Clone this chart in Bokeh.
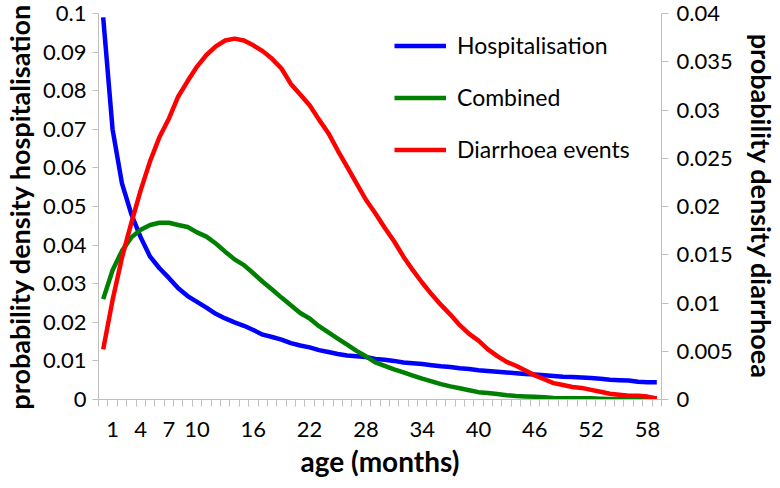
from bokeh.plotting import figure
from bokeh.models import (Range1d, LinearAxis, FixedTicker, PrintfTickFormatter,
                          Legend, LegendItem, ColumnDataSource)
from bokeh.embed import file_html
from bokeh.resources import INLINE

# ---- data ----
age = list(range(60))
hospitalisation = [
    0.099, 0.070, 0.056, 0.048, 0.042, 0.037, 0.034, 0.0315, 0.0288, 0.0268,
    0.0253, 0.0238, 0.0222, 0.0210, 0.0200, 0.0191, 0.0180, 0.0168, 0.0162, 0.0155,
    0.0146, 0.0140, 0.0135, 0.0128, 0.0123, 0.0118, 0.0114, 0.0112, 0.0110, 0.0105,
    0.0103, 0.0100, 0.0096, 0.0094, 0.0092, 0.0089, 0.0086, 0.0084, 0.0081, 0.0079,
    0.0076, 0.0074, 0.0072, 0.0070, 0.0068, 0.0066, 0.0065, 0.0063, 0.0061, 0.0059,
    0.0058, 0.0057, 0.0056, 0.0054, 0.0051, 0.0050, 0.0049, 0.0046, 0.0045, 0.0045,
]
combined = [
    0.026, 0.0335, 0.0385, 0.042, 0.044, 0.0452, 0.0458, 0.0458, 0.0452, 0.0447,
    0.0433, 0.0422, 0.0404, 0.0383, 0.0363, 0.0348, 0.0327, 0.0305, 0.0285, 0.0264,
    0.0244, 0.0224, 0.0210, 0.0190, 0.0174, 0.0158, 0.0142, 0.0126, 0.0112, 0.0096,
    0.0087, 0.0078, 0.0070, 0.0062, 0.0054, 0.0047, 0.0040, 0.0034, 0.0029, 0.0024,
    0.0019, 0.0017, 0.0014, 0.0011, 0.0009, 0.0008, 0.0007, 0.0006, 0.0004, 0.0003,
    0.0003, 0.0003, 0.0003, 0.0002, 0.0001, 0.0001, 0.0001, 0.0001, 0.0001, 0.0001,
]
diarrhoea_events = [
    0.0052, 0.0103, 0.0147, 0.0183, 0.0217, 0.0247, 0.0272, 0.0291, 0.0314, 0.0330,
    0.0345, 0.0357, 0.0366, 0.0372, 0.0374, 0.0372, 0.0367, 0.0361, 0.0353, 0.0343,
    0.0327, 0.0316, 0.0305, 0.0290, 0.0276, 0.0258, 0.0241, 0.0224, 0.0207, 0.0193,
    0.0178, 0.0164, 0.0148, 0.0134, 0.0121, 0.0109, 0.0098, 0.0088, 0.0077, 0.0068,
    0.0061, 0.0052, 0.0045, 0.0039, 0.0035, 0.0030, 0.0025, 0.0021, 0.0017, 0.0015,
    0.0013, 0.0012, 0.0010, 0.0008, 0.0006, 0.0005, 0.0004, 0.0004, 0.0003, 0.0001,
]
x_tick_labels = [1, 4, 7, 10, 16, 22, 28, 34, 40, 46, 52, 58]
left_ticks = [0, 0.01, 0.02, 0.03, 0.04, 0.05, 0.06, 0.07, 0.08, 0.09, 0.1]
right_ticks = [0, 0.005, 0.01, 0.015, 0.02, 0.025, 0.03, 0.035, 0.04]

FONT = "Lato"
AXIS_GREY = "#BFBFBF"
TICK_SIZE = "22px"
TITLE_SIZE = "27px"

src = ColumnDataSource(dict(age=age, hosp=hospitalisation, comb=combined, diar=diarrhoea_events))

p = figure(frame_width=563, frame_height=386, output_backend="svg", toolbar_location=None,
           x_range=Range1d(age[0] - 0.5, age[-1] + 0.5), y_range=Range1d(0, 0.1),
           min_border_left=94, min_border_right=5, min_border_top=13, min_border_bottom=5)
p.extra_y_ranges = {"right": Range1d(0, 0.04)}
p.outline_line_color = None
p.xgrid.visible = False
p.ygrid.visible = False
p.background_fill_color = "white"
p.border_fill_color = "white"

# x axis
xa = p.xaxis[0]
xa.ticker = FixedTicker(ticks=x_tick_labels,
                        minor_ticks=[a - 0.5 for a in age] + [age[-1] + 0.5])
xa.axis_line_color = AXIS_GREY
xa.major_tick_line_color = None
xa.major_tick_out = 0
xa.major_tick_in = 0
xa.minor_tick_line_color = AXIS_GREY
xa.minor_tick_out = 7
xa.minor_tick_in = 0
xa.major_label_standoff = 15
xa.major_label_text_font = FONT
xa.major_label_text_font_size = TICK_SIZE
xa.major_label_text_color = "black"
xa.axis_label = "age (months)"
xa.axis_label_text_font = FONT
xa.axis_label_text_font_style = "bold"
xa.axis_label_text_font_size = "28px"
xa.axis_label_text_color = "black"
xa.axis_label_standoff = 4

# left axis
ya = p.yaxis[0]
ya.ticker = FixedTicker(ticks=left_ticks)
ya.formatter = PrintfTickFormatter(format="%g")
ya.axis_line_color = AXIS_GREY
ya.major_tick_line_color = AXIS_GREY
ya.major_tick_out = 6
ya.major_tick_in = 0
ya.minor_tick_line_color = None
ya.major_label_standoff = 6
ya.major_label_text_font = FONT
ya.major_label_text_font_size = TICK_SIZE
ya.major_label_text_color = "black"
ya.axis_label = "probability density hospitalisation"
ya.axis_label_text_font = FONT
ya.axis_label_text_font_style = "bold"
ya.axis_label_text_font_size = TITLE_SIZE
ya.axis_label_text_color = "black"
ya.axis_label_standoff = 4

# right axis
ra = LinearAxis(y_range_name="right", ticker=FixedTicker(ticks=right_ticks),
                formatter=PrintfTickFormatter(format="%g"))
ra.axis_line_color = AXIS_GREY
ra.major_tick_line_color = AXIS_GREY
ra.major_tick_out = 7
ra.major_tick_in = 0
ra.minor_tick_line_color = None
ra.major_label_standoff = 8
ra.major_label_text_font = FONT
ra.major_label_text_font_size = TICK_SIZE
ra.major_label_text_color = "black"
ra.axis_label = "probability density diarrhoea"
ra.axis_label_text_font = FONT
ra.axis_label_text_font_style = "bold"
ra.axis_label_text_font_size = TITLE_SIZE
ra.axis_label_text_color = "black"
ra.axis_label_standoff = 9
p.add_layout(ra, "right")

# lines
r_h = p.line("age", "hosp", source=src, line_color="#0000FF", line_width=4.5)
r_c = p.line("age", "comb", source=src, line_color="#008000", line_width=4.5)
r_d = p.line("age", "diar", source=src, line_color="#FF0000", line_width=4.5,
             y_range_name="right")

legend = Legend(items=[LegendItem(label="Hospitalisation", renderers=[r_h]),
                       LegendItem(label="Combined", renderers=[r_c]),
                       LegendItem(label="Diarrhoea events", renderers=[r_d])],
                location=(296, 236))
legend.border_line_color = None
legend.background_fill_alpha = 0
legend.padding = 0
legend.margin = 0
legend.spacing = 24
legend.glyph_width = 52
legend.glyph_height = 27
legend.label_height = 27
legend.label_standoff = 11
legend.label_text_font = FONT
legend.label_text_font_size = "23px"
legend.label_text_color = "black"
p.add_layout(legend, "center")

open("out.html", "w").write(file_html(p, INLINE))
